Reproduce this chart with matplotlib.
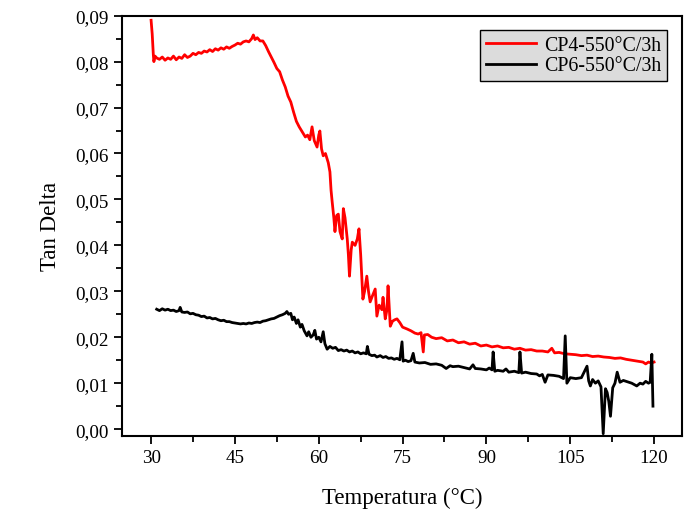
import matplotlib
matplotlib.use("Agg")
import matplotlib.pyplot as plt
from matplotlib.ticker import MultipleLocator

plt.rcParams['font.family'] = ['Liberation Serif', 'DejaVu Serif']

# ---- data ----
cp4_T = [30.0, 30.2, 30.4, 30.5, 30.7, 31.0, 31.5, 32.0, 32.5, 33.0, 33.5, 34.0, 34.5, 35.0, 35.5,
         36.0, 36.5, 37.0, 37.5, 38.0, 38.5, 39.0, 39.5, 40.0, 40.5, 41.0, 41.5, 42.0, 42.5, 43.0,
         43.5, 44.0, 44.5, 45.0, 45.5, 46.0, 46.5, 47.0, 47.5, 48.0, 48.3, 48.6, 49.0, 49.5, 50.0,
         50.5, 51.0, 51.5, 52.0, 52.5, 53.0, 53.5, 54.0, 54.5, 55.0, 55.5, 56.0, 56.5, 57.0, 57.6,
         58.0, 58.4, 58.8, 59.2, 59.7, 60.0, 60.2, 60.5, 60.8, 61.2, 61.7, 62.0, 62.2, 62.4, 62.7,
         62.9, 63.2, 63.5, 63.8, 64.2, 64.4, 64.7, 65.1, 65.3, 65.5, 65.8, 66.0, 66.5, 66.9, 67.2,
         67.5, 67.9, 68.2, 68.6, 68.9, 69.2, 69.6, 70.1, 70.4, 70.8, 71.3, 71.5, 71.9, 72.2, 72.4,
         72.8, 73.2, 73.6, 74.0, 74.5, 75.0, 75.8, 76.5, 77.2, 77.8, 78.3, 78.7, 78.9, 79.5, 80.2,
         81.0, 82.0, 83.0, 84.0, 85.0, 86.0, 87.0, 88.0, 89.0, 90.0, 91.0, 92.0, 93.0, 94.0, 95.0,
         96.0, 97.0, 98.0, 99.0, 100.0, 101.0, 101.7, 102.2, 103.0, 104.0, 105.0, 106.0, 107.0, 108.0,
         109.0, 110.0, 111.0, 112.0, 113.0, 114.0, 115.0, 116.0, 117.0, 118.0, 118.5, 119.0, 119.5, 120.0]
cp4_tan = [0.0890, 0.0860, 0.0815, 0.0800, 0.0812, 0.0808, 0.0805, 0.0810, 0.0803, 0.0808, 0.0805, 0.0812,
           0.0804, 0.0810, 0.0807, 0.0815, 0.0809, 0.0812, 0.0818, 0.0815, 0.0820, 0.0818, 0.0823, 0.0821,
           0.0826, 0.0822, 0.0828, 0.0825, 0.0830, 0.0827, 0.0832, 0.0829, 0.0833, 0.0836, 0.0840, 0.0838,
           0.0843, 0.0845, 0.0843, 0.0850, 0.0858, 0.0848, 0.0852, 0.0845, 0.0845, 0.0835, 0.0822, 0.0810,
           0.0798, 0.0785, 0.0778, 0.0760, 0.0745, 0.0725, 0.0712, 0.0690, 0.0670, 0.0658, 0.0648, 0.0636,
           0.0640, 0.0630, 0.0658, 0.0628, 0.0614, 0.0640, 0.0649, 0.0610, 0.0595, 0.0600, 0.0580, 0.0560,
           0.0520, 0.0495, 0.0460, 0.0430, 0.0465, 0.0468, 0.0430, 0.0414, 0.0480, 0.0460, 0.0414, 0.0380,
           0.0333, 0.0390, 0.0407, 0.0400, 0.0414, 0.0436, 0.0380, 0.0283, 0.0300, 0.0333, 0.0300, 0.0277,
           0.0290, 0.0305, 0.0246, 0.0270, 0.0260, 0.0287, 0.0240, 0.0260, 0.0312, 0.0224, 0.0235, 0.0238,
           0.0240, 0.0232, 0.0222, 0.0218, 0.0214, 0.0209, 0.0207, 0.0210, 0.0168, 0.0205, 0.0206, 0.0200,
           0.0197, 0.0199, 0.0192, 0.0194, 0.0188, 0.0190, 0.0185, 0.0187, 0.0181, 0.0183, 0.0179, 0.0181,
           0.0177, 0.0178, 0.0174, 0.0176, 0.0172, 0.0173, 0.0170, 0.0170, 0.0168, 0.0176, 0.0166, 0.0167,
           0.0164, 0.0163, 0.0162, 0.0160, 0.0161, 0.0158, 0.0159, 0.0157, 0.0156, 0.0154, 0.0155, 0.0152,
           0.0150, 0.0148, 0.0146, 0.0142, 0.0146, 0.0144, 0.0146]

cp6_T = [31.0, 31.5, 32.0, 32.5, 33.0, 33.5, 34.0, 34.5, 35.0, 35.2, 35.5, 36.0, 36.5, 37.0, 37.5, 38.0,
         38.5, 39.0, 39.5, 40.0, 40.5, 41.0, 41.5, 42.0, 42.5, 43.0, 43.5, 44.0, 44.5, 45.0, 45.5, 46.0,
         46.5, 47.0, 47.5, 48.0, 48.5, 49.0, 49.5, 50.0, 50.5, 51.0, 51.5, 52.0, 52.5, 53.0, 53.5, 54.0,
         54.3, 54.6, 55.0, 55.3, 55.6, 56.0, 56.3, 56.7, 57.0, 57.4, 57.9, 58.2, 58.6, 59.0, 59.3, 59.6,
         60.0, 60.4, 60.8, 61.1, 61.5, 62.0, 62.5, 63.0, 63.5, 64.0, 64.5, 65.0, 65.5, 66.0, 66.5, 67.0,
         67.5, 68.0, 68.5, 68.7, 69.0, 69.5, 70.0, 70.4, 71.0, 71.5, 72.0, 72.5, 73.0, 73.5, 74.0, 74.5,
         74.9, 75.1, 75.5, 76.0, 76.5, 76.9, 77.2, 78.0, 79.0, 80.0, 81.0, 82.0, 82.8, 83.5, 84.0, 85.0,
         86.0, 87.0, 87.6, 88.0, 89.0, 90.0, 90.5, 91.0, 91.2, 91.5, 92.0, 93.0, 93.5, 94.0, 95.0, 95.8,
         96.0, 96.3, 97.0, 98.0, 99.0, 99.5, 100.0, 100.5, 101.0, 102.0, 103.0, 103.8, 104.1, 104.4, 105.0,
         106.0, 107.0, 108.0, 108.3, 108.6, 109.0, 109.5, 110.0, 110.5, 110.9, 111.3, 111.6, 111.9, 112.2,
         112.6, 113.0, 113.4, 113.9, 114.5, 115.0, 116.0, 116.9, 117.5, 118.0, 118.5, 119.0, 119.3, 119.6, 119.8]
cp6_tan = [0.0261, 0.0258, 0.0262, 0.0259, 0.0261, 0.0258, 0.0259, 0.0256, 0.0258, 0.0265, 0.0255, 0.0254,
           0.0255, 0.0251, 0.0252, 0.0249, 0.0248, 0.0245, 0.0246, 0.0242, 0.0243, 0.0240, 0.0241, 0.0238,
           0.0236, 0.0237, 0.0234, 0.0234, 0.0232, 0.0231, 0.0230, 0.0229, 0.0230, 0.0229, 0.0231, 0.0230,
           0.0232, 0.0233, 0.0232, 0.0235, 0.0236, 0.0238, 0.0240, 0.0241, 0.0244, 0.0247, 0.0249, 0.0252,
           0.0256, 0.0250, 0.0252, 0.0238, 0.0244, 0.0230, 0.0238, 0.0222, 0.0228, 0.0214, 0.0203, 0.0212,
           0.0200, 0.0205, 0.0215, 0.0196, 0.0200, 0.0190, 0.0212, 0.0186, 0.0174, 0.0180, 0.0176, 0.0178,
           0.0171, 0.0173, 0.0170, 0.0172, 0.0168, 0.0170, 0.0166, 0.0168, 0.0164, 0.0166, 0.0164, 0.0180,
           0.0163, 0.0160, 0.0161, 0.0157, 0.0160, 0.0156, 0.0158, 0.0154, 0.0155, 0.0152, 0.0154, 0.0151,
           0.0190, 0.0148, 0.0150, 0.0147, 0.0149, 0.0165, 0.0146, 0.0144, 0.0145, 0.0141, 0.0142, 0.0139,
           0.0132, 0.0138, 0.0136, 0.0137, 0.0134, 0.0131, 0.0140, 0.0132, 0.0131, 0.0129, 0.0133, 0.0129,
           0.0168, 0.0126, 0.0128, 0.0126, 0.0131, 0.0124, 0.0126, 0.0123, 0.0168, 0.0122, 0.0124, 0.0121,
           0.0120, 0.0116, 0.0119, 0.0102, 0.0118, 0.0117, 0.0115, 0.0110, 0.0203, 0.0100, 0.0112, 0.0110,
           0.0112, 0.0137, 0.0105, 0.0094, 0.0108, 0.0100, 0.0105, 0.0092, -0.0010, 0.0088, 0.0080, 0.0060,
           0.0028, 0.0090, 0.0100, 0.0124, 0.0102, 0.0106, 0.0104, 0.0100, 0.0094, 0.0100, 0.0098, 0.0104,
           0.0100, 0.0102, 0.0163, 0.0050]

series_labels = ['CP4-550°C/3h', 'CP6-550°C/3h']
x_ticks = [30, 45, 60, 75, 90, 105, 120]
y_ticks = [0.00, 0.01, 0.02, 0.03, 0.04, 0.05, 0.06, 0.07, 0.08, 0.09]
y_tick_labels = ['0,00', '0,01', '0,02', '0,03', '0,04', '0,05', '0,06', '0,07', '0,08', '0,09']
x_label = 'Temperatura (°C)'
y_label = 'Tan Delta'

# ---- figure ----
fig = plt.figure(figsize=(6.91, 5.10), dpi=100)
ax = fig.add_axes([0.1766, 0.1431, 0.8104, 0.8242])

ax.plot(cp4_T, cp4_tan, color='#ff0000', lw=2.0, label=series_labels[0])
ax.plot(cp6_T, cp6_tan, color='#000000', lw=2.0, label=series_labels[1])

ax.set_xlim(24.8, 125.0)
ax.set_ylim(-0.0015, 0.090)
ax.set_xticks(x_ticks)
ax.set_xticklabels([str(v) for v in x_ticks])
ax.set_yticks(y_ticks)
ax.set_yticklabels(y_tick_labels)
ax.xaxis.set_minor_locator(MultipleLocator(7.5))
ax.yaxis.set_minor_locator(MultipleLocator(0.005))

ax.tick_params(which='both', direction='out', top=False, right=False, width=1.3, labelsize=13.8)
ax.tick_params(which='major', length=6)
ax.tick_params(which='minor', length=4)
for sp in ax.spines.values():
    sp.set_linewidth(1.5)

ax.set_xlabel(x_label, fontsize=16.5, labelpad=15)
ax.set_ylabel(y_label, fontsize=16.5, labelpad=10.5)

leg = ax.legend(loc='upper right', bbox_to_anchor=(0.973, 0.967), borderaxespad=0,
                fontsize=14.3, frameon=True, fancybox=False, facecolor='#dcdcdc',
                edgecolor='black', framealpha=1, handlelength=2.5, handletextpad=0.4,
                labelspacing=0.1, borderpad=0.3)
leg.get_frame().set_linewidth(1.0)

fig.savefig('out.png', dpi=100)
